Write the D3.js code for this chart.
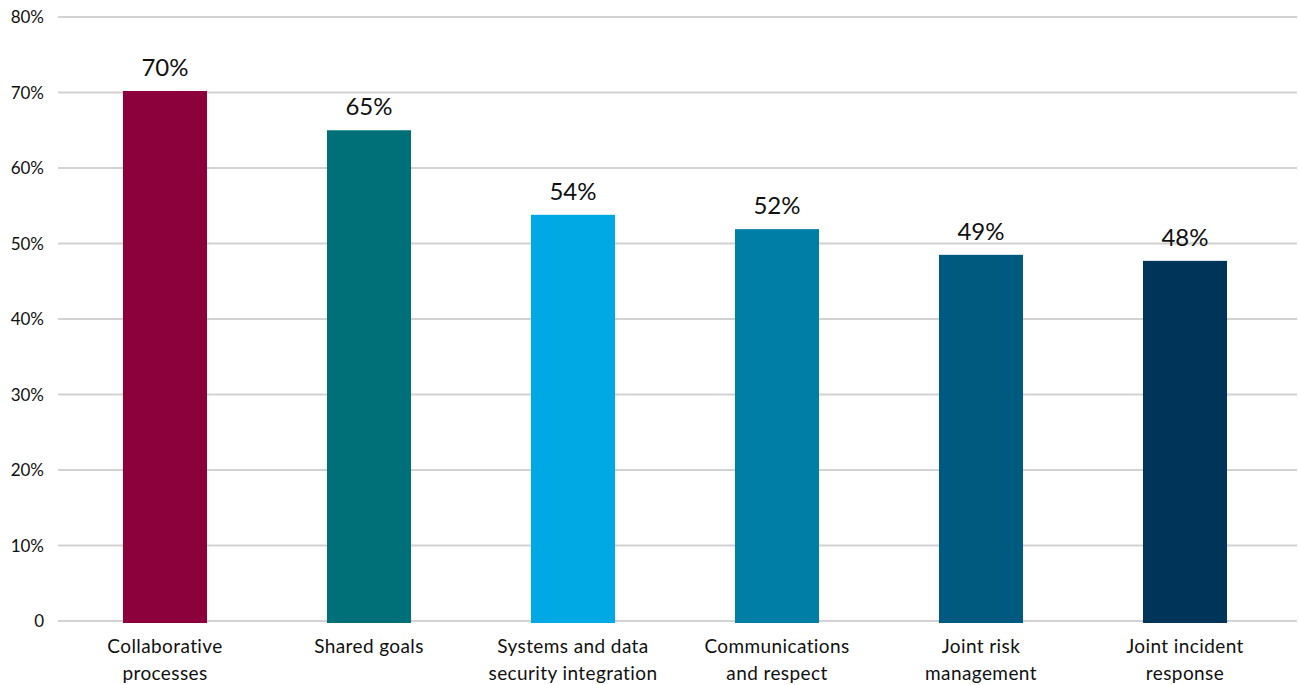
<!DOCTYPE html>
<html>
<head>
<meta charset="utf-8">
<script src="https://cdn.jsdelivr.net/npm/d3@7"></script>
<style>
  body { margin: 0; background: #fff; }
  svg text { font-family: Lato, "Noto Sans", sans-serif; fill: #111; }
</style>
</head>
<body>
<div id="chart"></div>
<script>
let width = 1299
  , height = 685
  , marginLeft = 58
  , marginRight = 2
  , marginTop = 17
  , marginBottom = 64;

// values
let categories = [
  ['Collaborative', 'processes'],
  ['Shared goals'],
  ['Systems and data', 'security integration'],
  ['Communications', 'and respect'],
  ['Joint risk', 'management'],
  ['Joint incident', 'response']
];
let values = [70.2, 65.0, 53.8, 51.9, 48.5, 47.7];
let valueLabels = ['70%', '65%', '54%', '52%', '49%', '48%'];
let colors = ['#8c003c', '#007078', '#00a8e4', '#007ea6', '#005a80', '#00355a'];
let yTicks = [0, 10, 20, 30, 40, 50, 60, 70, 80];
let yTickLabels = ['0', '10%', '20%', '30%', '40%', '50%', '60%', '70%', '80%'];

let svg = d3.select('#chart').append('svg').attr('width', width).attr('height', height);

let x = d3.scaleBand()
  .domain(d3.range(values.length))
  .range([marginLeft + 5, width - marginRight - 10])
  .paddingInner(0.588)
  .paddingOuter(0.294);

let y = d3.scaleLinear().domain([0, 80]).range([height - marginBottom, marginTop]);

// gridlines
svg.append('g').selectAll('line').data(yTicks).enter()
  .append('line')
  .attr('x1', marginLeft).attr('x2', width - marginRight)
  .attr('y1', d => y(d)).attr('y2', d => y(d))
  .attr('stroke', '#d2d2d2').attr('stroke-width', 2);

// y axis labels
svg.append('g').selectAll('text').data(yTicks).enter()
  .append('text')
  .attr('x', 44).attr('y', d => y(d) + 6)
  .attr('text-anchor', 'end')
  .style('font-size', '17px')
  .text((d, i) => yTickLabels[i]);

// bars
svg.append('g').selectAll('rect').data(values).enter()
  .append('rect')
  .attr('x', (d, i) => x(i))
  .attr('y', d => y(d))
  .attr('width', x.bandwidth())
  .attr('height', d => y(0) - y(d) + 2)
  .attr('fill', (d, i) => colors[i]);

// value labels
svg.append('g').selectAll('text').data(values).enter()
  .append('text')
  .attr('x', (d, i) => x(i) + x.bandwidth() / 2)
  .attr('y', d => y(d) - 15)
  .attr('text-anchor', 'middle')
  .style('font-size', '24px')
  .text((d, i) => valueLabels[i]);

// category labels
let cat = svg.append('g').selectAll('text').data(categories).enter()
  .append('text')
  .attr('text-anchor', 'middle')
  .style('font-size', '19px')
  .style('letter-spacing', '0.4px')
  .attr('transform', (d, i) => 'translate(' + (x(i) + x.bandwidth() / 2) + ',' + (y(0) + 32) + ')');

cat.selectAll('tspan').data(d => d).enter()
  .append('tspan')
  .attr('x', 0)
  .attr('dy', (d, i) => i ? 27 : 0)
  .text(d => d);
</script>
</body>
</html>
